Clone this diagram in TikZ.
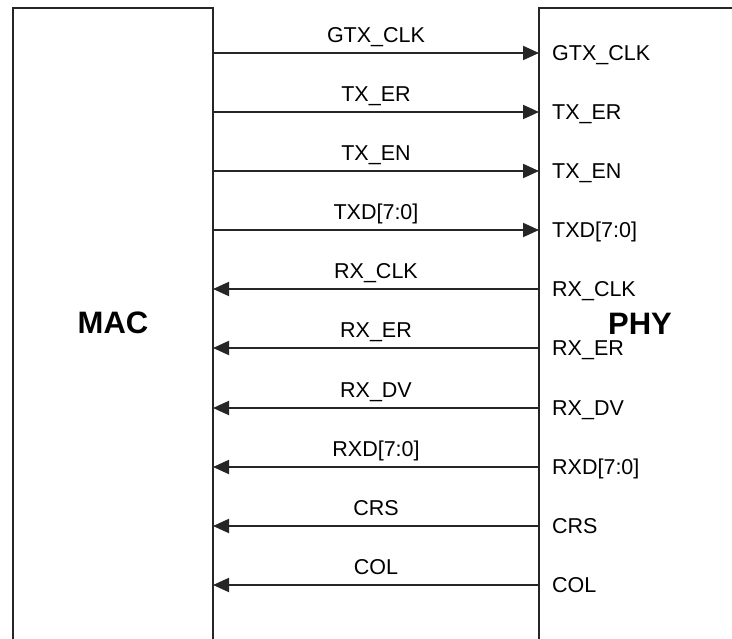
\documentclass[tikz,border=0pt]{standalone}
\usepackage{fontspec}
\setmainfont{Liberation Sans}
\usetikzlibrary{arrows.meta, positioning}
\definecolor{wireink}{HTML}{262626}

\begin{document}
\begin{tikzpicture}[
  x=1pt, y=-1pt,
  font=\fontsize{21.5}{25}\selectfont,
  block/.style={rectangle, draw=wireink, line width=2pt, anchor=north west,
                inner sep=0pt, outer sep=0pt, minimum height=720pt},
  title/.style={font=\fontsize{31}{36}\selectfont\bfseries, inner sep=0pt},
  pin/.style={inner sep=0pt, text height=15.4pt, text depth=0pt},
  lbl/.style={anchor=base, inner sep=0pt, yshift=10.5pt},
  ar/.style={-{Triangle[length=16pt, width=14pt]}, draw=wireink, line width=2pt}
]
\path[use as bounding box] (0,0) rectangle (732,639);
\clip (0,0) rectangle (732,639);

\node[block, minimum width=200pt] (mac) at (13,8) {};
\node[block, minimum width=300pt] (phy) at (539,8) {};
\node[title] (mactitle) at (113,323) {MAC};
\node[title] (phytitle) at (640,323.5) {PHY};

% pins on the PHY side
\coordinate (gtxclk) at (539,53);
\coordinate (txer) at (539,112);
\coordinate (txen) at (539,171);
\coordinate (txd) at (539,230);
\coordinate (rxclk) at (539,289);
\coordinate (rxer) at (539,348);
\coordinate (rxdv) at (539,408);
\coordinate (rxd) at (539,467);
\coordinate (crs) at (539,526);
\coordinate (col) at (539,585);

\node[pin, right=13pt of gtxclk] (gtxclkpin) {GTX\_CLK};
\node[pin, right=13pt of txer] (txerpin) {TX\_ER};
\node[pin, right=13pt of txen] (txenpin) {TX\_EN};
\node[pin, right=13pt of txd] (txdpin) {TXD[7:0]};
\node[pin, right=13pt of rxclk] (rxclkpin) {RX\_CLK};
\node[pin, right=13pt of rxer] (rxerpin) {RX\_ER};
\node[pin, right=13pt of rxdv] (rxdvpin) {RX\_DV};
\node[pin, right=13pt of rxd] (rxdpin) {RXD[7:0]};
\node[pin, right=13pt of crs] (crspin) {CRS};
\node[pin, right=13pt of col] (colpin) {COL};

% MAC -> PHY
\draw[ar] (mac.east |- gtxclk) -- node[lbl] {GTX\_CLK} (gtxclk);
\draw[ar] (mac.east |- txer) -- node[lbl] {TX\_ER} (txer);
\draw[ar] (mac.east |- txen) -- node[lbl] {TX\_EN} (txen);
\draw[ar] (mac.east |- txd) -- node[lbl] {TXD[7:0]} (txd);

% PHY -> MAC
\draw[ar] (rxclk) -- node[lbl] {RX\_CLK} (mac.east |- rxclk);
\draw[ar] (rxer) -- node[lbl] {RX\_ER} (mac.east |- rxer);
\draw[ar] (rxdv) -- node[lbl] {RX\_DV} (mac.east |- rxdv);
\draw[ar] (rxd) -- node[lbl] {RXD[7:0]} (mac.east |- rxd);
\draw[ar] (crs) -- node[lbl] {CRS} (mac.east |- crs);
\draw[ar] (col) -- node[lbl] {COL} (mac.east |- col);

\end{tikzpicture}
\end{document}
